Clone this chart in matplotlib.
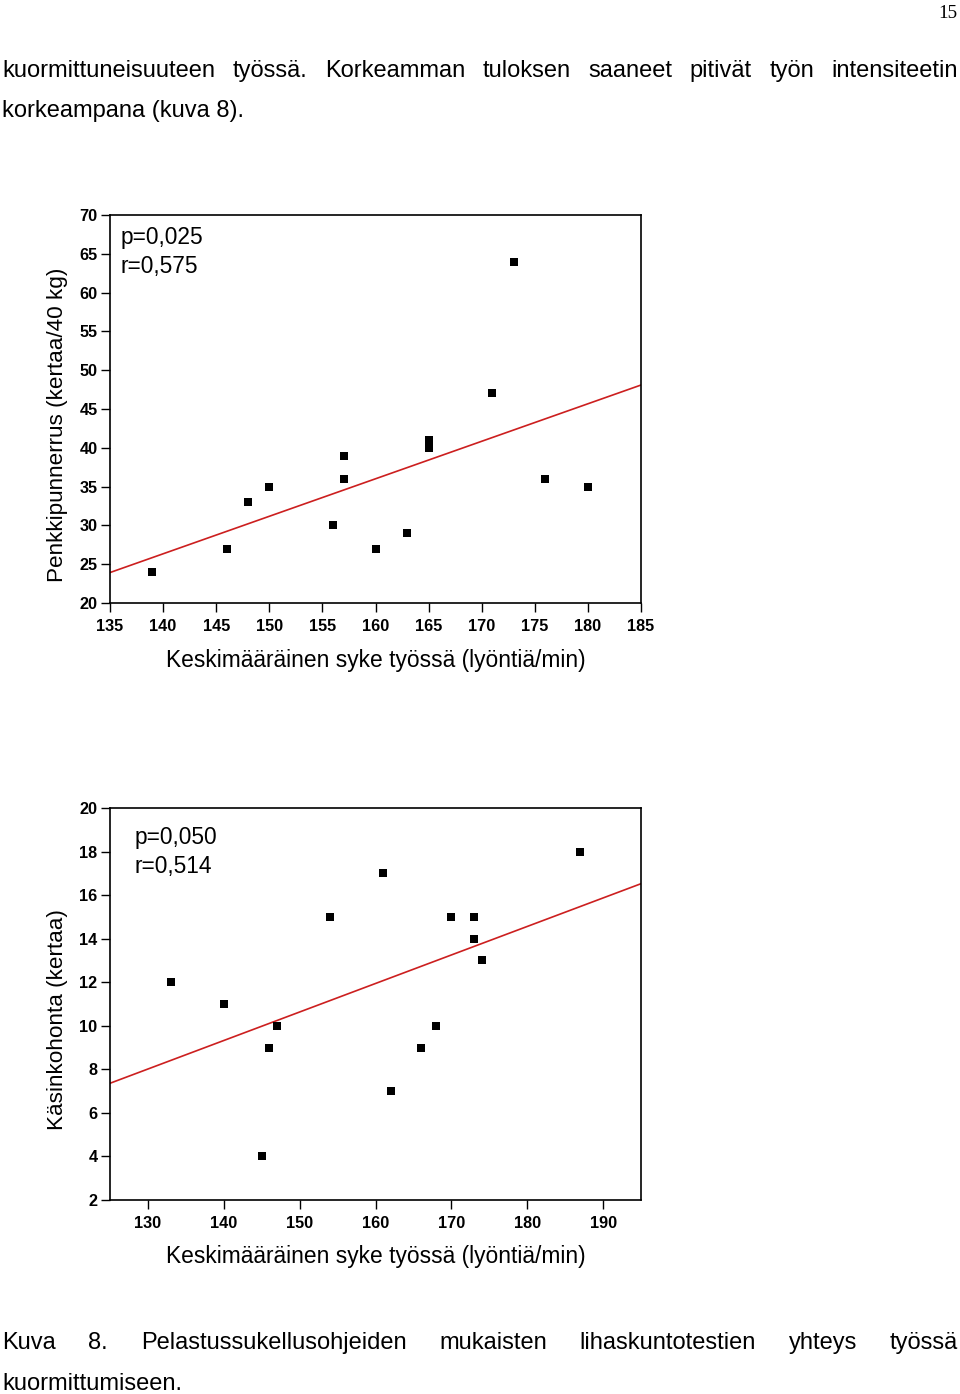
import numpy as np
import matplotlib
matplotlib.use("Agg")
import matplotlib.pyplot as plt

# ---------------- data ----------------
hr_top = [139, 146, 148, 150, 156, 157, 157, 160, 163, 165, 165, 171, 173, 176, 180]
bench = [24, 27, 33, 35, 30, 36, 39, 27, 29, 40, 41, 47, 64, 36, 35]

hr_bot = [133, 140, 145, 146, 147, 154, 161, 162, 166, 168, 170, 173, 173, 174, 187]
pushup = [12, 11, 4, 9, 10, 15, 17, 7, 9, 10, 15, 15, 14, 13, 18]

top_xticks = list(range(135, 186, 5))
top_yticks = list(range(20, 71, 5))
bot_xticks = list(range(130, 191, 10))
bot_yticks = list(range(2, 21, 2))

top_stats = "p=0,025\nr=0,575"
bot_stats = "p=0,050\nr=0,514"
xlabel = "Keskimääräinen syke työssä (lyöntiä/min)"
top_ylabel = "Penkkipunnerrus (kertaa/40 kg)"
bot_ylabel = "Käsinkohonta (kertaa)"

body_line1 = "kuormittuneisuuteen työssä. Korkeamman tuloksen saaneet pitivät työn intensiteetin"
body_line2 = "korkeampana (kuva 8)."
cap_line1 = "Kuva 8. Pelastussukellusohjeiden mukaisten lihaskuntotestien yhteys työssä"
cap_line2 = "kuormittumiseen."
page_no = "15"

# ---------------- figure ----------------
W, H = 960, 1394
plt.rcParams['font.family'] = ['Liberation Sans', 'DejaVu Sans']
fig = plt.figure(figsize=(W / 100, H / 100), dpi=100)


def px_axes(l, t, r, b):
    return fig.add_axes([l / W, 1 - b / H, (r - l) / W, (b - t) / H])


def style_axes(ax, xlim, ylim, xt, yt, xs, ys):
    ax.set_xlim(*xlim)
    ax.set_ylim(*ylim)
    ax.set_xticks(xt)
    ax.set_yticks(yt)
    for sp in ax.spines.values():
        sp.set_linewidth(1.2)
        sp.set_color('black')
    ax.tick_params(direction='out', length=6.5, width=1.0, colors='black',
                   labelsize=11.7)
    ax.tick_params(axis='x', pad=4.8)
    ax.tick_params(axis='y', pad=2.5)
    for lab in ax.get_xticklabels() + ax.get_yticklabels():
        lab.set_fontweight('bold')
    ax.scatter(xs, ys, marker='s', s=32, color='black', zorder=3, linewidths=0)
    k, c = np.polyfit(xs, ys, 1)
    xx = np.array(xlim, dtype=float)
    ax.plot(xx, k * xx + c, color='#cc1f1f', lw=1.2, zorder=2)


# top chart: axes box 110..641 x 215..603
ax1 = px_axes(110, 215, 641, 603)
style_axes(ax1, (135, 185), (20, 70), top_xticks, top_yticks, hr_top, bench)
ax1.set_xlabel(xlabel, fontsize=16.4)
ax1.xaxis.label.set_va('center')
ax1.xaxis.set_label_coords(0.5, -(660 - 603) / 388)
ax1.set_ylabel(top_ylabel, fontsize=16.2)
ax1.yaxis.label.set_va('center')
ax1.yaxis.set_label_coords((57 - 110) / 531, (603 - 425) / 388)
ax1.text((121 - 110) / 531, (603 - 252) / 388, top_stats, transform=ax1.transAxes,
         fontsize=16.4, ha='left', va='center', linespacing=1.3)

# bottom chart: axes box 110..641 x 808..1200
ax2 = px_axes(110, 808, 641, 1200)
style_axes(ax2, (125, 195), (2, 20), bot_xticks, bot_yticks, hr_bot, pushup)
ax2.set_xlabel(xlabel, fontsize=16.4)
ax2.xaxis.label.set_va('center')
ax2.xaxis.set_label_coords(0.5, -(1256 - 1200) / 392)
ax2.set_ylabel(bot_ylabel, fontsize=16.2)
ax2.yaxis.label.set_va('center')
ax2.yaxis.set_label_coords((57 - 110) / 531, (1200 - 1020) / 392)
ax2.text((135 - 110) / 531, (1200 - 852) / 392, bot_stats, transform=ax2.transAxes,
         fontsize=16.4, ha='left', va='center', linespacing=1.3)

# ---------------- page text ----------------
renderer = fig.canvas.get_renderer()
BODY_FS = 17


def justify(line, x0, x1, y):
    words = line.split(' ')
    arts = [fig.text(0, 1 - y / H, w, fontsize=BODY_FS, ha='left', va='center')
            for w in words]
    widths = [a.get_window_extent(renderer).width for a in arts]
    gap = (x1 - x0 - sum(widths)) / (len(words) - 1)
    x = x0
    for a, w in zip(arts, widths):
        a.set_x(x / W)
        x += w + gap


def plain(line, x0, y):
    fig.text(x0 / W, 1 - y / H, line, fontsize=BODY_FS, ha='left', va='center')


fig.text(957 / W, 1 - 13 / H, page_no, fontsize=13.7, family='Liberation Serif',
         ha='right', va='center')
justify(body_line1, 2, 958, 71)
plain(body_line2, 2, 111)
justify(cap_line1, 2, 958, 1343)
plain(cap_line2, 2, 1384)

fig.savefig('out.png', dpi=100, facecolor='white')
